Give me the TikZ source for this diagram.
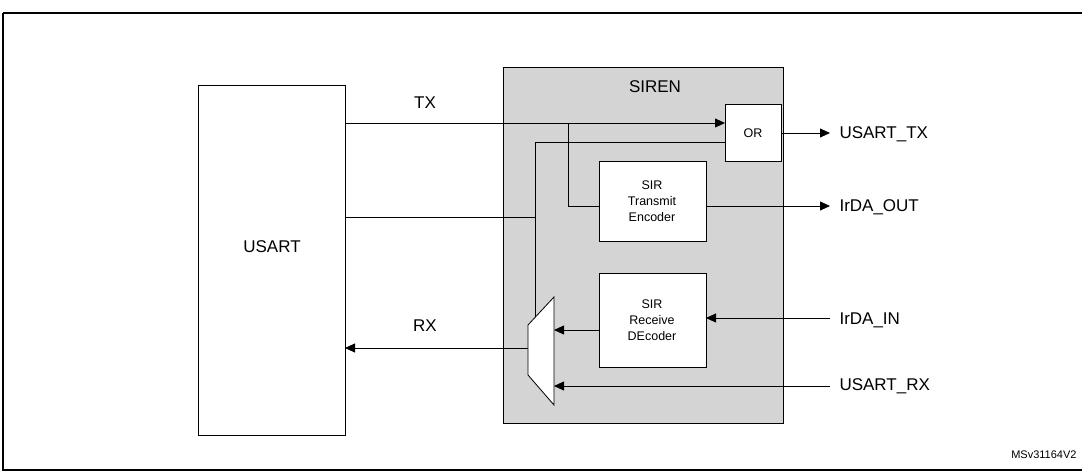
\documentclass[tikz,border=0pt]{standalone}
\usepackage{fontspec}
\setmainfont{Liberation Sans}
\usetikzlibrary{arrows.meta}
\begin{document}
\begin{tikzpicture}[x=1pt,y=-1pt,
  wire/.style={line width=0.8pt},
  arr/.style={wire,-{Triangle[length=10pt,width=9pt]}},
  blk/.style={draw,line width=0.8pt,fill=white},
  big/.style={font=\fontsize{17}{20}\selectfont},
  sml/.style={font=\fontsize{12.5}{16}\selectfont,align=center}]
\useasboundingbox (0,0) rectangle (1082,473);
\draw[line width=1.2pt] (3,13) -- (1082,13) (3,13) -- (3,470) -- (1082,470);
\node[draw,line width=0.8pt,fill=black!17,minimum width=280pt,minimum height=356pt,anchor=north west] (siren) at (503,67) {};
\node[big] at (655,87) {SIREN};
\node[blk,minimum width=147pt,minimum height=350pt,anchor=north west] (usart) at (198,85) {};
\node[big] at (272,247) {USART};
\node[blk,minimum width=56pt,minimum height=57pt,anchor=north west] (or) at (725,104) {};
\node[sml] at (753,133) {OR};
\node[blk,minimum width=107pt,minimum height=80pt,anchor=north west] (enc) at (599,161) {};
\node[sml] at (652,201) {SIR\\Transmit\\Encoder};
\node[blk,minimum width=107pt,minimum height=94pt,anchor=north west] (dec) at (599,273) {};
\node[sml] at (652,320) {SIR\\Receive\\DEcoder};
\draw[blk] (528,325) coordinate (mTL) -- (554,297) coordinate (mTR) -- (554,405) -- (528,375) -- cycle;
\draw[arr] (345,123) -- (725,123);
\draw[wire] (568,123) -- (568,206) -- (599,206);
\draw[wire] (725,142) -- (535,142) -- (535,317);
\draw[wire] (345,217) -- (535,217);
\draw[arr] (781,133) -- (830,133);
\draw[arr] (706,206) -- (830,206);
\draw[arr] (830,318) -- (706,318);
\draw[arr] (599,330) -- (554,330);
\draw[arr] (830,386) -- (554,386);
\draw[arr] (528,348) -- (345,348);
\node[big] at (425,103) {TX};
\node[big] at (425,326) {RX};
\node[big,anchor=west] at (836,134) {USART\_TX};
\node[big,anchor=west] at (836,207) {IrDA\_OUT};
\node[big,anchor=west] at (836,320) {IrDA\_IN};
\node[big,anchor=west] at (836,386) {USART\_RX};
\node[font=\fontsize{11}{13}\selectfont,anchor=east] at (1080,455) {MSv31164V2};
\end{tikzpicture}
\end{document}
